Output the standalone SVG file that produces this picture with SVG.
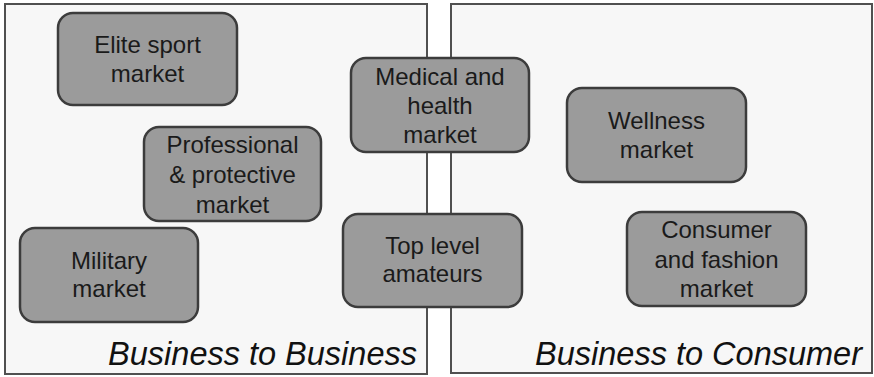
<svg xmlns="http://www.w3.org/2000/svg" width="874" height="377" viewBox="0 0 874 377">
<style>
.panel{fill:#f7f7f7;stroke:#505050;stroke-width:2}
.node{fill:#9b9b9b;stroke:#3c3c3c;stroke-width:2.5}
.lbl{font-family:"Liberation Sans",Arial,sans-serif;font-size:24px;fill:#1a1a1a;text-anchor:middle}
.ttl{font-family:"Liberation Sans",Arial,sans-serif;font-size:32.5px;font-style:italic;fill:#111;text-anchor:end}
</style>
<rect width="874" height="377" fill="#fff"/>
<g id="panel-b2b">
<rect class="panel" x="5" y="4" width="422" height="370"/>
<text class="ttl" x="417" y="365">Business to Business</text>
</g>
<g id="panel-b2c">
<rect class="panel" x="451" y="4" width="421" height="369"/>
<text class="ttl" x="862" y="365">Business to Consumer</text>
</g>
<g id="connectors"></g>
<g id="elite">
<rect class="node" x="58" y="13" width="179" height="92" rx="15"/>
<text class="lbl" x="147.5" y="53">Elite sport</text>
<text class="lbl" x="147.5" y="82">market</text>
</g>
<g id="professional">
<rect class="node" x="144" y="127" width="177" height="94" rx="15"/>
<text class="lbl" x="232.5" y="153">Professional</text>
<text class="lbl" x="232.5" y="183">&amp; protective</text>
<text class="lbl" x="232.5" y="213">market</text>
</g>
<g id="military">
<rect class="node" x="20" y="228" width="178" height="94" rx="15"/>
<text class="lbl" x="109" y="269">Military</text>
<text class="lbl" x="109" y="297">market</text>
</g>
<g id="medical">
<rect class="node" x="351" y="58" width="178" height="94" rx="15"/>
<text class="lbl" x="440" y="85">Medical and</text>
<text class="lbl" x="440" y="114">health</text>
<text class="lbl" x="440" y="143">market</text>
</g>
<g id="toplevel">
<rect class="node" x="343" y="214" width="179" height="93" rx="15"/>
<text class="lbl" x="432.5" y="254">Top level</text>
<text class="lbl" x="432.5" y="282">amateurs</text>
</g>
<g id="wellness">
<rect class="node" x="567" y="88" width="179" height="94" rx="15"/>
<text class="lbl" x="656.5" y="129">Wellness</text>
<text class="lbl" x="656.5" y="158">market</text>
</g>
<g id="consumer">
<rect class="node" x="627" y="212" width="179" height="94" rx="15"/>
<text class="lbl" x="716.5" y="238">Consumer</text>
<text class="lbl" x="716.5" y="268">and fashion</text>
<text class="lbl" x="716.5" y="297">market</text>
</g>
</svg>
